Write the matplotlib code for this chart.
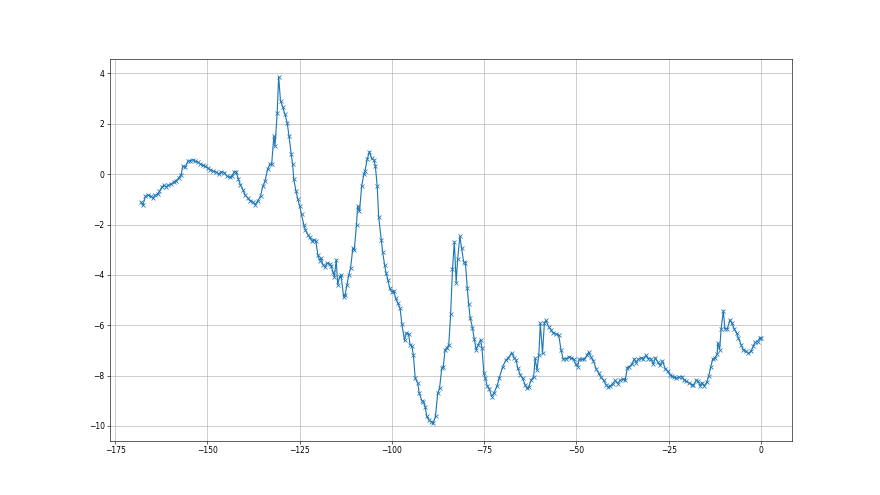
import numpy as np
import matplotlib
matplotlib.use('Agg')
import matplotlib.pyplot as plt

# values
x_vals = [
    -168.0, -167.5, -166.8, -166.1, -165.4, -164.8, -164.2, -163.4, -163.0, -162.4,
    -161.8, -161.2, -160.6, -159.8, -159.1, -158.5, -157.8, -157.1, -156.7, -156.0,
    -155.3, -154.6, -154.0, -153.3, -152.6, -151.9, -151.3, -150.6, -149.9,
    -149.2, -148.5, -147.6, -147.0, -146.3,
    -145.4, -144.7, -144.0, -143.4, -142.7, -142.2, -141.6, -141.1, -140.4, -139.8,
    -139.1, -138.4, -137.7, -137.1, -136.4, -135.6, -135.0, -134.4, -133.7, -133.1,
    -132.6, -132.0, -131.7, -131.1, -130.7, -130.2, -129.6, -129.0, -128.4, -127.9,
    -127.3, -126.9, -126.6, -126.0, -125.5, -125.0, -124.5, -123.9, -123.5, -122.8,
    -122.3, -121.7, -121.2,
    -120.6, -120.1, -119.6, -119.2, -118.7, -118.1, -117.6, -116.9, -116.5, -116.0,
    -115.6, -115.1, -114.7, -114.2, -113.8, -113.1, -112.7, -112.2, -111.7, -111.2,
    -110.6, -110.2, -109.6, -109.3, -108.8, -108.2, -107.6, -107.3, -106.7, -106.1,
    -105.5, -104.9, -104.5, -104.0, -103.6, -102.9, -102.5, -102.0, -101.6, -101.1,
    -100.6, -100.1, -99.5, -99.0, -98.4, -97.8, -97.3, -96.6, -96.1, -95.5,
    -95.1, -94.6, -94.2, -93.7, -93.0, -92.6, -91.9, -91.5, -91.0, -90.6,
    -90.0, -89.4, -88.8, -88.2, -87.6, -87.1, -86.5, -86.1, -85.6, -85.1,
    -84.6, -84.1, -83.6, -83.1, -82.6, -82.2, -81.6, -81.1, -80.6, -80.1,
    -79.6, -79.2, -78.8, -78.2, -77.7, -77.2, -76.6, -76.0, -75.6, -75.1,
    -74.7, -74.2, -73.6, -73.0, -72.4,
    -71.5, -70.9, -70.0, -69.1, -68.5, -67.6, -66.8, -66.4, -65.9, -65.2,
    -64.6, -63.9, -63.4, -62.9, -62.3, -61.6, -61.2, -60.7, -60.2, -59.8,
    -59.2, -58.7, -58.3,
    -57.5, -56.9, -56.3, -55.5, -54.8, -54.2, -53.6, -52.8, -52.1, -51.5,
    -50.8, -50.2, -49.7, -49.2, -48.5, -47.9, -47.2, -46.7, -46.1, -45.4,
    -44.7, -44.0, -43.4, -42.6, -42.0, -41.5, -40.8, -40.2, -39.5, -38.8,
    -38.2, -37.5, -36.8, -36.2, -35.7, -35.0, -34.3, -33.9, -33.2, -32.5,
    -31.9, -31.2, -30.5, -29.8, -29.2, -28.6, -28.0, -27.4, -26.7, -25.9,
    -25.3, -24.7, -24.1, -23.5, -22.9, -22.2, -21.4, -20.8, -20.2, -19.5,
    -18.8, -18.3, -17.6, -17.0, -16.5, -16.0, -15.4, -14.7, -14.2, -13.6,
    -13.1, -12.5, -11.9, -11.7, -11.2, -10.8, -10.2, -9.8, -9.1, -8.4,
    -7.9, -7.3, -6.6, -6.1, -5.4, -4.8, -4.1, -3.4, -2.7, -2.1,
    -1.6, -0.9, -0.4, 0.0,
]
y_vals = [
    -1.11, -1.24, -0.88, -0.82, -0.88, -0.95, -0.84, -0.79, -0.68, -0.52,
    -0.44, -0.51, -0.44, -0.39, -0.31, -0.26, -0.15, -0.02, 0.31, 0.27,
    0.51, 0.54, 0.58, 0.51, 0.48, 0.40, 0.35, 0.31, 0.25,
    0.18, 0.13, 0.08, 0.00, 0.10,
    0.06, -0.08, -0.12, -0.08, 0.10, 0.10, -0.21, -0.41, -0.61, -0.83,
    -0.94, -1.05, -1.10, -1.21, -1.07, -0.87, -0.48, -0.28, 0.19, 0.39,
    0.39, 1.52, 1.12, 2.41, 3.87, 2.91, 2.67, 2.38, 2.05, 1.52,
    0.79, 0.39, -0.21, -0.67, -1.00, -1.27, -1.60, -2.00, -2.20, -2.40,
    -2.51, -2.64, -2.60,
    -2.67, -3.20, -3.43, -3.33, -3.60, -3.69, -3.53, -3.56, -3.64, -3.87,
    -4.07, -3.40, -4.40, -4.09, -4.00, -4.87, -4.80, -4.40, -4.00, -3.73,
    -2.93, -3.00, -2.00, -1.27, -1.47, -0.47, 0.00, 0.13, 0.60, 0.89,
    0.63, 0.57, 0.33, -0.47, -1.69, -2.60, -3.11, -3.60, -3.91, -4.20,
    -4.53, -4.67, -4.63, -4.93, -5.13, -5.33, -5.96, -6.60, -6.31, -6.33,
    -6.77, -6.84, -7.17, -8.10, -8.30, -8.70, -8.99, -9.03, -9.23, -9.60,
    -9.76, -9.83, -9.89, -9.60, -8.70, -8.50, -7.70, -7.66, -6.97, -6.90,
    -6.77, -5.57, -3.78, -2.69, -4.31, -3.38, -2.47, -2.95, -3.48, -3.51,
    -4.51, -5.17, -5.70, -6.10, -6.54, -6.97, -6.77, -6.57, -6.90, -7.90,
    -8.10, -8.40, -8.53, -8.83, -8.70,
    -8.41, -8.08, -7.64, -7.38, -7.31, -7.09, -7.31, -7.38, -7.71, -7.98,
    -8.11, -8.37, -8.51, -8.44, -8.18, -8.04, -7.31, -7.78, -7.18, -5.92,
    -7.11, -5.92, -5.81,
    -6.06, -6.19, -6.30, -6.35, -6.39, -6.97, -7.35, -7.33, -7.25, -7.29,
    -7.35, -7.55, -7.64, -7.35, -7.35, -7.35, -7.20, -7.07, -7.25, -7.42,
    -7.72, -7.90, -8.06, -8.19, -8.36, -8.45, -8.41, -8.32, -8.19, -8.32,
    -8.19, -8.13, -8.19, -7.68, -7.64, -7.55, -7.33, -7.48, -7.35, -7.29,
    -7.33, -7.20, -7.33, -7.33, -7.55, -7.29, -7.46, -7.59, -7.42, -7.74,
    -7.81, -7.97, -8.03, -8.06, -8.10, -8.06, -8.04, -8.19, -8.23, -8.28,
    -8.36, -8.39, -8.19, -8.23, -8.41, -8.28, -8.41, -8.26, -8.03, -7.64,
    -7.35, -7.29, -7.16, -6.71, -6.97, -6.13, -5.42, -6.13, -6.13, -5.78,
    -5.91, -6.13, -6.32, -6.52, -6.77, -6.97, -7.03, -7.12, -7.03, -6.84,
    -6.68, -6.65, -6.52, -6.50,
]

# 16x9 figure rendered small so it comes out 880x495
fig = plt.figure(figsize=(16, 9), dpi=55)
ax = fig.add_subplot(111)
ax.plot(x_vals, y_vals, marker='x', color='C0')
ax.grid(True)

fig.savefig('out.png', dpi=55)
